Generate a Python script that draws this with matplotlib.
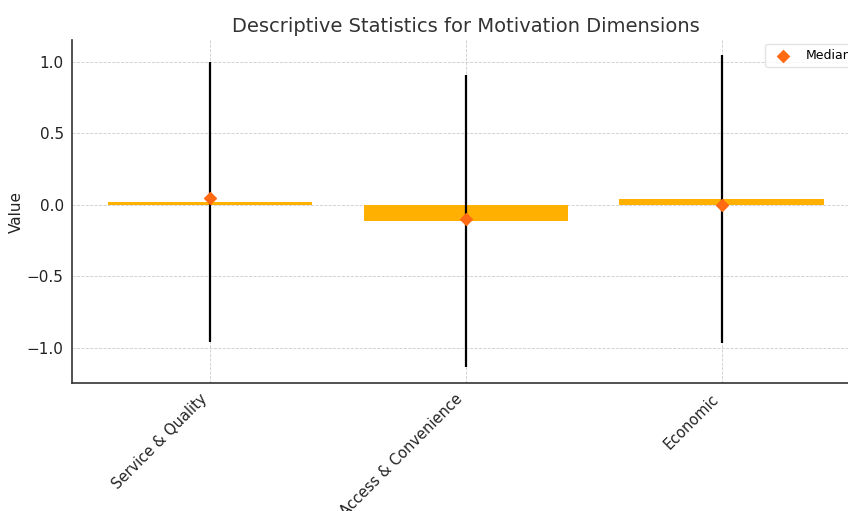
import matplotlib.pyplot as plt
import numpy as np

# Summary statistics per motivation dimension
categories = ["Service & Quality", "Access & Convenience", "Economic"]
means = [0.02, -0.115, 0.04]
stds = [0.98, 1.02, 1.005]
medians = [0.05, -0.10, 0.0]

BAR_COLOR = "#FFB000"
MEDIAN_COLOR = "#FF6A13"


def main():
    fig = plt.figure(figsize=(8.48, 5.11), dpi=100)
    # axes run slightly past the right edge of the canvas
    ax = fig.add_axes([0.0849, 0.2505, 0.929, 0.671])

    x = np.arange(len(categories))
    ax.bar(x, means, width=0.8, color=BAR_COLOR, zorder=2)
    ax.errorbar(x, means, yerr=stds, fmt="none", ecolor="black",
                elinewidth=1.6, capsize=0, zorder=3)
    ax.scatter(x, medians, marker="D", s=36, color=MEDIAN_COLOR,
               label="Median", zorder=4)

    ax.set_xlim(-0.54, 2.54)
    ax.set_ylim(-1.245, 1.15)
    ax.set_yticks([-1.0, -0.5, 0.0, 0.5, 1.0])
    ax.set_xticks(x)
    ax.set_xticklabels(categories, rotation=45, ha="right",
                       fontsize=10.5, color="#222222")
    ax.tick_params(axis="y", labelsize=11, labelcolor="#222222")
    ax.tick_params(axis="both", direction="in", length=0, pad=6)

    ax.set_ylabel("Value", fontsize=11, color="#222222", labelpad=2)
    ax.set_title("Descriptive Statistics for Motivation Dimensions",
                 fontsize=14, color="#333333", pad=6)

    ax.grid(True, linestyle="--", linewidth=0.6, color="#cccccc", zorder=0)
    ax.set_axisbelow(True)
    for side in ["top", "right"]:
        ax.spines[side].set_visible(False)
    for side in ["left", "bottom"]:
        ax.spines[side].set_color("#333333")
        ax.spines[side].set_linewidth(1.2)

    ax.legend(loc="upper right", fontsize=9, frameon=True,
              edgecolor="#dddddd", borderaxespad=0.3)

    fig.savefig("out.png", dpi=100)


if __name__ == "__main__":
    main()
